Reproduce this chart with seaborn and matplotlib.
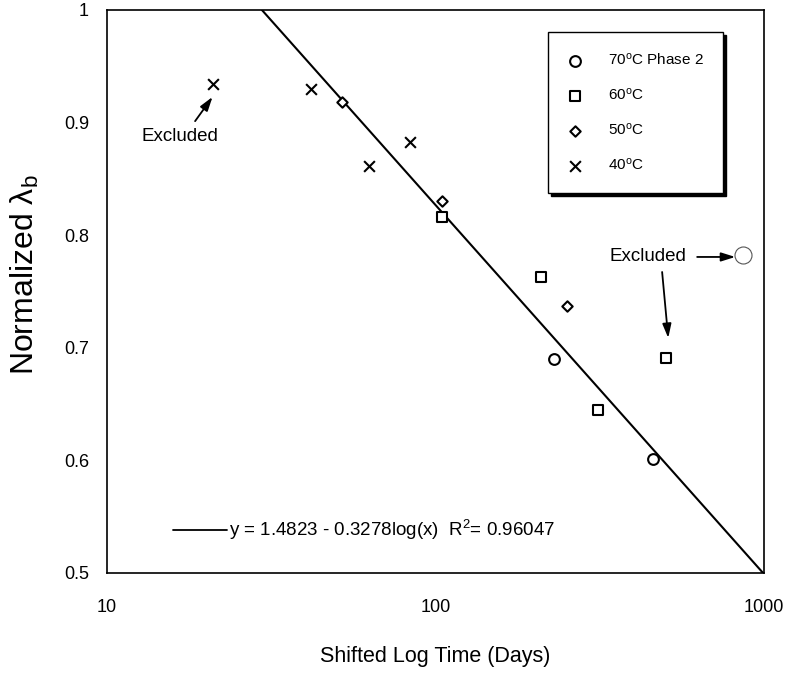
import numpy as np
import pandas as pd
import matplotlib
matplotlib.use("Agg")
import matplotlib.pyplot as plt
import seaborn as sns

sns.set_theme(style="white")
plt.rcParams["font.family"] = ["Liberation Sans", "DejaVu Sans"]
plt.rcParams["mathtext.fontset"] = "custom"
plt.rcParams["mathtext.rm"] = "Liberation Sans"
plt.rcParams["mathtext.it"] = "Liberation Sans:italic"
for key in ["text.color", "axes.labelcolor", "xtick.color", "ytick.color"]:
    plt.rcParams[key] = "black"

# Shifted time (days) and normalized lambda_b for each temperature series
t70 = [229.6, 459.0]
y70 = [0.690, 0.601]
t60 = [104.7, 209.4, 312.0, 503.0]
y60 = [0.816, 0.763, 0.645, 0.691]
t50 = [51.9, 104.7, 251.0]
y50 = [0.918, 0.830, 0.737]
t40 = [21.0, 41.8, 62.8, 83.6]
y40 = [0.934, 0.930, 0.861, 0.883]
# excluded 70 C point drawn separately
t70_excl = [863.0]
y70_excl = [0.782]

labels = ["70$^\\mathrm{o}$C Phase 2", "60$^\\mathrm{o}$C", "50$^\\mathrm{o}$C", "40$^\\mathrm{o}$C"]

# regression fit y = a - b*log10(x)
fit_a = 1.4823
fit_b = 0.3278
fit_r2 = 0.96047

x_ticks = [10, 100, 1000]
y_ticks = [0.5, 0.6, 0.7, 0.8, 0.9, 1.0]
y_tick_labels = ["0.5", "0.6", "0.7", "0.8", "0.9", "1"]

fig = plt.figure(figsize=(7.87, 6.73), dpi=100)
ax = fig.add_axes([0.136, 0.1486, 0.835, 0.8366])

# fit line across the visible range
x_lo = 10 ** ((fit_a - 1.0) / fit_b)
x_fit = np.logspace(np.log10(x_lo), 3, 50)
fit_df = pd.DataFrame({"x": x_fit, "y": fit_a - fit_b * np.log10(x_fit)})
sns.lineplot(data=fit_df, x="x", y="y", ax=ax, color="black", linewidth=1.5,
             legend=False, zorder=2)

series = [
    (t70, y70, "o", 60, labels[0]),
    (t60, y60, "s", 55, labels[1]),
    (t50, y50, "D", 28, labels[2]),
    (t40, y40, "x", 60, labels[3]),
]
for tx, ty, mk, sz, lab in series:
    df = pd.DataFrame({"x": tx, "y": ty})
    if mk == "x":
        sns.scatterplot(data=df, x="x", y="y", ax=ax, marker=mk, s=sz,
                        color="black", linewidth=1.5, label=lab, zorder=3)
    else:
        sns.scatterplot(data=df, x="x", y="y", ax=ax, marker=mk, s=sz,
                        facecolor="white", edgecolor="black", linewidth=1.5,
                        label=lab, zorder=3)

dfx = pd.DataFrame({"x": t70_excl, "y": y70_excl})
sns.scatterplot(data=dfx, x="x", y="y", ax=ax, marker="o", s=150,
                facecolor="white", edgecolor="#555555", linewidth=0.8,
                legend=False, zorder=3)

ax.set_xscale("log")
ax.set_xlim(10, 1000)
ax.set_ylim(0.5, 1.0)
ax.set_xticks(x_ticks)
ax.set_xticklabels([str(v) for v in x_ticks])
ax.xaxis.set_minor_locator(matplotlib.ticker.NullLocator())
ax.set_yticks(y_ticks)
ax.set_yticklabels(y_tick_labels)
ax.tick_params(axis="x", length=0, pad=19, labelsize=13)
ax.tick_params(axis="y", length=0, pad=13, labelsize=13)

for sp in ax.spines.values():
    sp.set_visible(True)
    sp.set_color("black")
    sp.set_linewidth(1.2)

ax.set_xlabel("Shifted Log Time (Days)", fontsize=15.5)
ax.xaxis.set_label_coords(0.5, -0.149)
ax.xaxis.label.set_va("center")
ax.set_ylabel("Normalized λ$_\\mathrm{b}$", fontsize=23)
ax.yaxis.set_label_coords(-0.125, 0.53)
ax.yaxis.label.set_va("center")

leg = ax.legend(loc="upper left", bbox_to_anchor=(0.671, 0.961), frameon=True,
                fancybox=False, shadow={"color": "black", "alpha": 1.0},
                fontsize=11, borderpad=1.3, labelspacing=1.25,
                handlelength=1.0, handletextpad=1.6, borderaxespad=0)
leg.get_frame().set_edgecolor("black")
leg.get_frame().set_linewidth(1.0)
leg.get_frame().set_alpha(1.0)

# equation key at lower left
ax.plot([0.1005, 0.1826], [0.0764, 0.0764], transform=ax.transAxes,
        color="black", linewidth=1.3)
ax.text(0.186, 0.0764,
        f"y = {fit_a:.4f} - {fit_b:.4f}log(x)  R$^\\mathrm{{2}}$= {fit_r2:.5f}",
        transform=ax.transAxes, ha="left", va="center", fontsize=13.5)

arrow = dict(arrowstyle="-|>,head_length=0.7,head_width=0.22", color="black",
             linewidth=1.3, shrinkA=0, shrinkB=0)
ax.text(0.111, 0.776, "Excluded", transform=ax.transAxes, fontsize=13.5,
        ha="center", va="center")
ax.annotate("", xy=(0.1605, 0.8455), xytext=(0.134, 0.8025),
            xycoords="axes fraction", textcoords="axes fraction", arrowprops=arrow)
ax.text(0.823, 0.5613, "Excluded", transform=ax.transAxes, fontsize=13.5,
        ha="center", va="center")
ax.annotate("", xy=(0.956, 0.5613), xytext=(0.898, 0.5613),
            xycoords="axes fraction", textcoords="axes fraction", arrowprops=arrow)
ax.annotate("", xy=(0.854, 0.4174), xytext=(0.8447, 0.5346),
            xycoords="axes fraction", textcoords="axes fraction", arrowprops=arrow)

fig.savefig("out.png", dpi=100)
